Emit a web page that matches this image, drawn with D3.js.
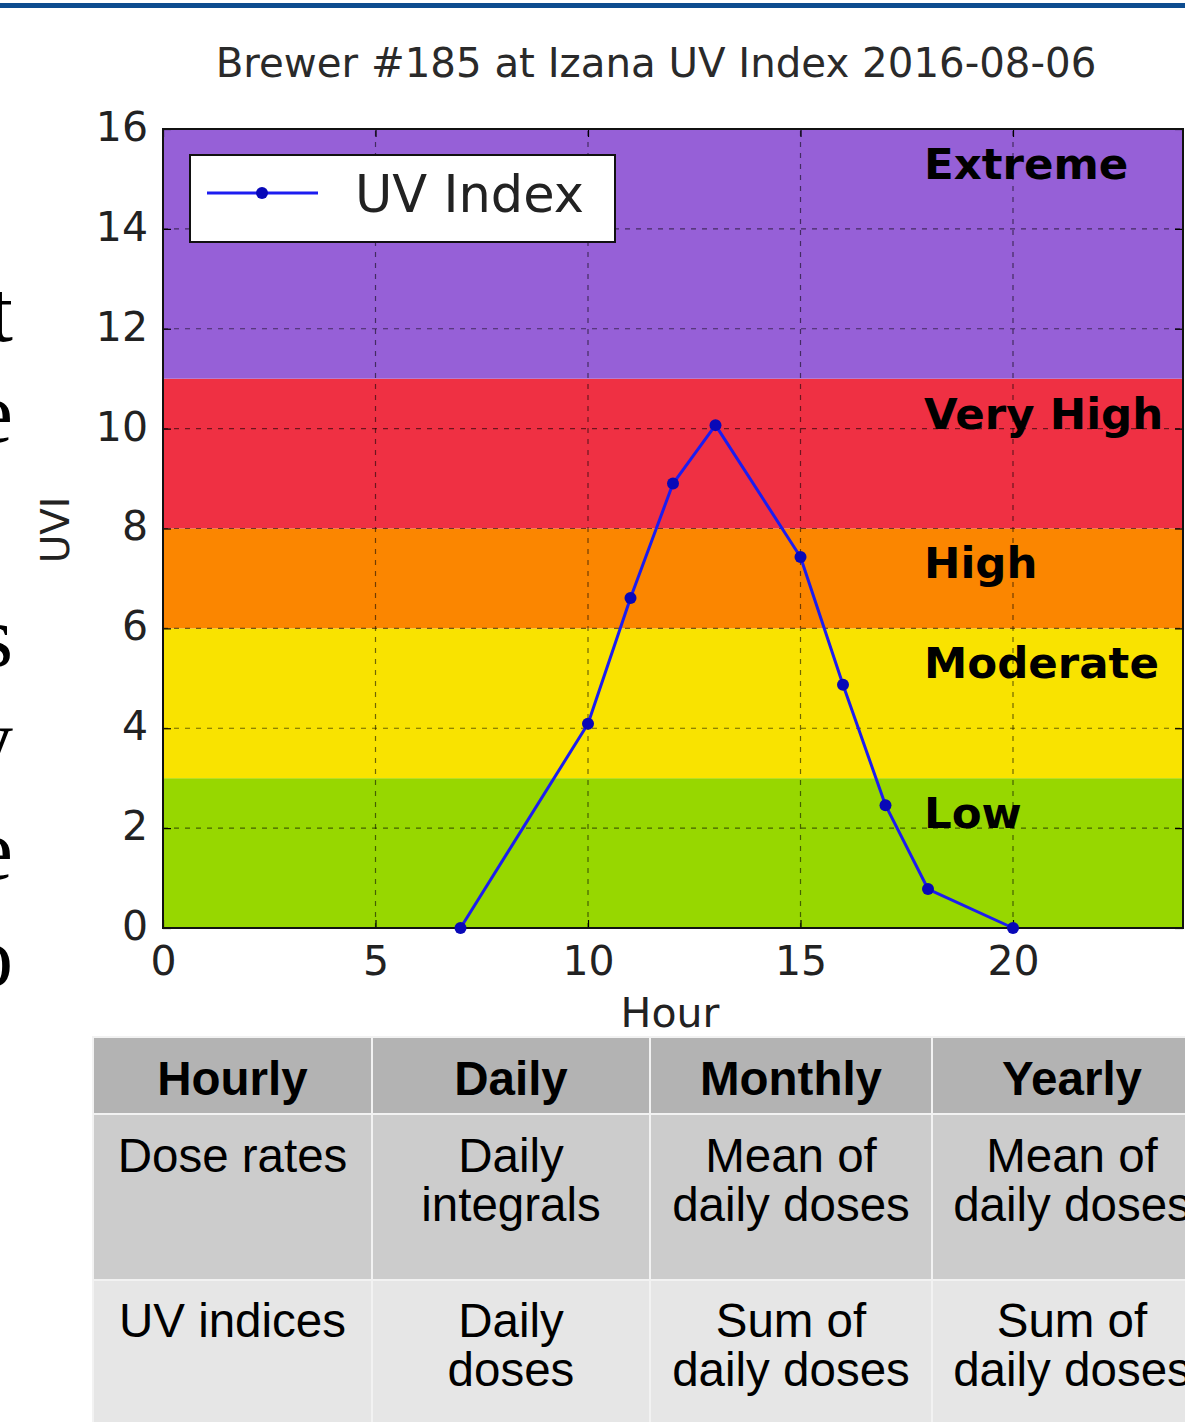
<!DOCTYPE html>
<html>
<head>
<meta charset="utf-8">
<script src="https://cdn.jsdelivr.net/npm/d3@7"></script>
<style>
  html, body { margin: 0; padding: 0; background: #fff; }
  svg { display: block; }
</style>
</head>
<body>
<svg id="chart" width="1185" height="1422"></svg>
<script>
// ---------------- data ----------------
const hours = [7, 10, 11, 12, 13, 15, 16, 17, 18, 20];
const uvIndex = [0, 4.09, 6.61, 8.9, 10.07, 7.43, 4.87, 2.46, 0.78, 0];

const bandNames = ["Low", "Moderate", "High", "Very High", "Extreme"];
const bandLow = [0, 3, 6, 8, 11];
const bandHigh = [3, 6, 8, 11, 16];
const bandColors = ["#97d700", "#f9e300", "#fb8600", "#ef3043", "#9660d7"];
const bandLabelX = [18, 18, 18, 18, 18];
const bandLabelY = [2, 5, 7, 10, 15];

const xTicks = [0, 5, 10, 15, 20];
const yTicks = [0, 2, 4, 6, 8, 10, 12, 14, 16];

const titleText = "Brewer #185 at Izana UV Index 2016-08-06";
const xLabel = "Hour";
const yLabel = "UVI";
const legendLabel = "UV Index";

const tableHeaders = ["Hourly", "Daily", "Monthly", "Yearly"];
const tableRow1 = [["Dose rates"], ["Daily", "integrals"], ["Mean of", "daily doses"], ["Mean of", "daily doses"]];
const tableRow2 = [["UV indices"], ["Daily", "doses"], ["Sum of", "daily doses"], ["Sum of", "daily doses"]];

const sideLetters = ["t", "e", "s", "y", "e", "o"];

// ---------------- layout ----------------
const svg = d3.select("#chart");
const W = 1185, H = 1422;
const plot = { left: 163, right: 1183, top: 129, bottom: 928 };

svg.append("rect").attr("width", W).attr("height", H).attr("fill", "#fff");

// top slide rule
svg.append("rect").attr("x", 0).attr("y", 3).attr("width", W).attr("height", 5).attr("fill", "#0d4c8f");

// side letters (cut-off slide text)
const sideBaselines = [341, 442, 666, 768, 879, 986];
svg.append("g").selectAll("text").data(sideLetters).join("text")
  .attr("x", 13).attr("y", (d, i) => sideBaselines[i])
  .attr("text-anchor", "end")
  .attr("font-family", "Liberation Serif, serif")
  .attr("font-size", 86)
  .attr("fill", "#000")
  .text(d => d);

const x = d3.scaleLinear().domain([0, 24]).range([plot.left, plot.right]);
const y = d3.scaleLinear().domain([0, 16]).range([plot.bottom, plot.top]);

const bands = bandNames.map((n, i) => ({ name: n, lo: bandLow[i], hi: bandHigh[i], color: bandColors[i], lx: bandLabelX[i], ly: bandLabelY[i] }));

// bands
svg.append("g").selectAll("rect").data(bands).join("rect")
  .attr("x", x(0)).attr("width", x(24) - x(0))
  .attr("y", d => y(d.hi)).attr("height", d => y(d.lo) - y(d.hi))
  .attr("fill", d => d.color);

// grid
const grid = svg.append("g").attr("stroke", "#000").attr("stroke-width", 1.2).attr("stroke-opacity", 0.55).attr("stroke-dasharray", "5,6");
grid.selectAll("line.h").data(yTicks.filter(t => t > 0 && t < 16)).join("line")
  .attr("x1", x(0)).attr("x2", x(24)).attr("y1", d => y(d)).attr("y2", d => y(d));
grid.selectAll("line.v").data(xTicks.filter(t => t > 0)).join("line")
  .attr("y1", y(0)).attr("y2", y(16)).attr("x1", d => x(d)).attr("x2", d => x(d));

// band labels
svg.append("g").selectAll("text").data(bands).join("text")
  .attr("x", d => x(d.lx) - 4).attr("y", d => y(d.ly))
  .attr("font-family", "DejaVu Sans, sans-serif")
  .attr("font-weight", "bold")
  .attr("font-size", 43.5)
  .attr("fill", "#000")
  .text(d => d.name);

// axes (inward ticks)
const axFont = "DejaVu Sans, sans-serif";
const xAxis = svg.append("g").attr("transform", `translate(0,${plot.bottom})`)
  .call(d3.axisBottom(x).tickValues(xTicks).tickSizeInner(-8).tickSizeOuter(0).tickPadding(18));
const yAxis = svg.append("g").attr("transform", `translate(${plot.left},0)`)
  .call(d3.axisLeft(y).tickValues(yTicks).tickSizeInner(-8).tickSizeOuter(0).tickPadding(15));
svg.append("g").attr("transform", `translate(0,${plot.top})`)
  .call(d3.axisTop(x).tickValues(xTicks).tickSizeInner(-8).tickSizeOuter(0).tickFormat(""));
svg.append("g").attr("transform", `translate(${plot.right},0)`)
  .call(d3.axisRight(y).tickValues(yTicks).tickSizeInner(-8).tickSizeOuter(0).tickFormat(""));
svg.selectAll(".domain").remove();
svg.selectAll(".tick line").attr("stroke", "#000").attr("stroke-width", 1.2);
xAxis.selectAll("text").attr("font-family", axFont).attr("font-size", 41).attr("fill", "#222");
yAxis.selectAll("text").attr("font-family", axFont).attr("font-size", 41).attr("fill", "#222").attr("dy", "0.28em");

// frame
svg.append("rect").attr("x", plot.left).attr("y", plot.top)
  .attr("width", plot.right - plot.left).attr("height", plot.bottom - plot.top)
  .attr("fill", "none").attr("stroke", "#111").attr("stroke-width", 2);

// series
const pts = hours.map((h, i) => ({ h, v: uvIndex[i] }));
svg.append("path").datum(pts)
  .attr("fill", "none").attr("stroke", "#1c1cf0").attr("stroke-width", 3)
  .attr("stroke-linejoin", "round")
  .attr("d", d3.line().x(d => x(d.h)).y(d => y(d.v)));
svg.append("g").selectAll("circle").data(pts).join("circle")
  .attr("cx", d => x(d.h)).attr("cy", d => y(d.v)).attr("r", 6)
  .attr("fill", "#0808b8");

// legend
const lg = svg.append("g");
lg.append("rect").attr("x", 190).attr("y", 155).attr("width", 425).attr("height", 87)
  .attr("fill", "#fff").attr("stroke", "#111").attr("stroke-width", 2);
lg.append("line").attr("x1", 207).attr("x2", 318).attr("y1", 193).attr("y2", 193)
  .attr("stroke", "#1c1cf0").attr("stroke-width", 3);
lg.append("circle").attr("cx", 262).attr("cy", 193).attr("r", 6).attr("fill", "#0808b8");
lg.append("text").attr("x", 355).attr("y", 212)
  .attr("font-family", axFont).attr("font-size", 51).attr("fill", "#222").text(legendLabel);

// title
const title = svg.append("text").attr("x", 656).attr("y", 77).attr("text-anchor", "middle")
  .attr("font-family", axFont).attr("font-size", 40).attr("fill", "#2a2a2a").text(titleText);
const tl = title.node().getComputedTextLength();
title.attr("font-size", 40 * 881 / tl);

// axis labels
svg.append("text").attr("x", 670).attr("y", 1027).attr("text-anchor", "middle")
  .attr("font-family", axFont).attr("font-size", 41).attr("fill", "#222").text(xLabel);
svg.append("text").attr("transform", "translate(69,530) rotate(-90)").attr("text-anchor", "middle")
  .attr("font-family", axFont).attr("font-size", 39).attr("fill", "#222").text(yLabel);

// ---------------- table ----------------
const colEdges = [93, 372, 650, 932, 1212];
const rowEdges = [1037, 1114, 1280, 1430];
const rowFills = ["#b3b3b3", "#cccccc", "#e6e6e6"];
const rows = [tableHeaders.map(h => [h]), tableRow1, tableRow2];
const rowBaselines = [[1095], [1172, 1221], [1337, 1386]];
const tbl = svg.append("g");
rows.forEach((row, r) => {
  row.forEach((cell, c) => {
    tbl.append("rect")
      .attr("x", colEdges[c]).attr("y", rowEdges[r])
      .attr("width", colEdges[c + 1] - colEdges[c]).attr("height", rowEdges[r + 1] - rowEdges[r])
      .attr("fill", rowFills[r]).attr("stroke", "#f2f2f2").attr("stroke-width", 2);
    cell.forEach((line, k) => {
      tbl.append("text")
        .attr("x", (colEdges[c] + colEdges[c + 1]) / 2)
        .attr("y", rowBaselines[r][k])
        .attr("text-anchor", "middle")
        .attr("font-family", "Liberation Sans, Arial, sans-serif")
        .attr("font-weight", r === 0 ? "bold" : "normal")
        .attr("font-size", 47.5)
        .attr("fill", "#000")
        .text(line);
    });
  });
});
</script>
</body>
</html>
